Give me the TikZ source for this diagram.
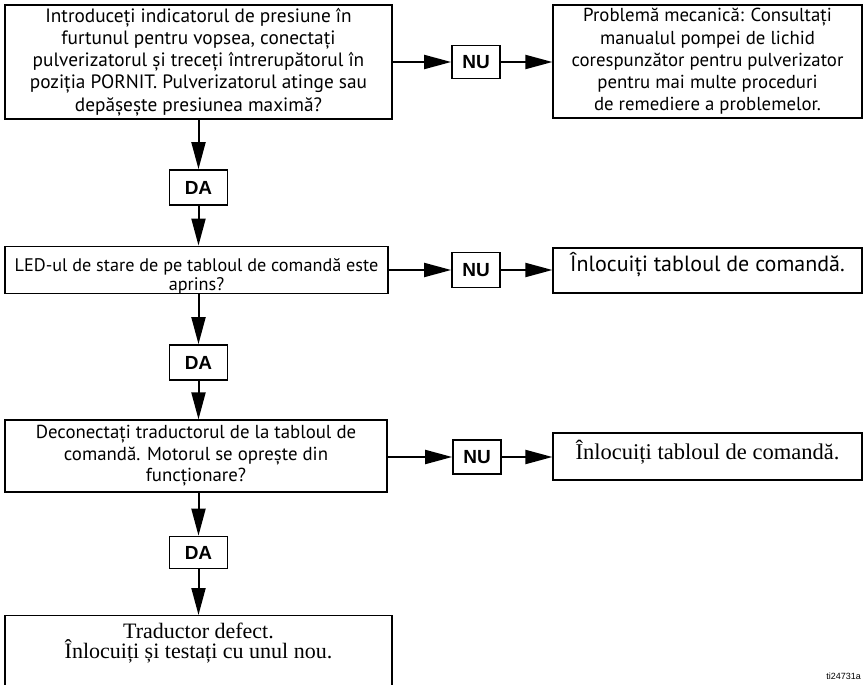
\documentclass[tikz,border=0pt]{standalone}
\usepackage{fontspec}
\setmainfont{Liberation Serif}
\setsansfont{PT Sans}
\newfontfamily\labelfont{Liberation Sans}
\usetikzlibrary{arrows.meta,positioning,calc}

\begin{document}
\begin{tikzpicture}[x=1pt,y=-1pt,
  qbox/.style={draw, line width=1.2pt, inner sep=0pt, align=center, font=\sffamily\fontsize{18.8}{21.5}\selectfont},
  rbox/.style={draw, line width=1.2pt, inner sep=0pt, align=center, minimum width=309pt},
  answer/.style={draw, line width=1.7pt, inner sep=0pt, minimum width=58pt, font=\labelfont\bfseries\fontsize{19}{21}\selectfont},
  flow/.style={line width=2pt, -{Triangle[length=27pt,width=14pt]}}]

\useasboundingbox (0,0) rectangle (863,685);

\node[qbox, minimum width=387pt, minimum height=114pt, font=\sffamily\fontsize{19.3}{22.3}\selectfont] (q1) at (198.5,62) {Introduceți indicatorul de presiune în\\furtunul pentru vopsea, conectați\\pulverizatorul și treceți întrerupătorul în\\poziția PORNIT. Pulverizatorul atinge sau\\depășește presiunea maximă?};

\node[answer, minimum width=48pt, minimum height=33pt] (nu1) at (476,62) {NU};

\node[rbox, minimum height=113pt, font=\sffamily\fontsize{18.8}{22.3}\selectfont] (r1) at (707.5,61.5) {Problemă mecanică: Consultați\\manualul pompei de lichid\\corespunzător pentru pulverizator\\pentru mai multe proceduri\\de remediere a problemelor.};

\node[answer, minimum height=35pt] (da1) at (198.5,187.5) {DA};

\node[qbox, minimum width=383pt, minimum height=45pt, text height=44pt, font=\sffamily\fontsize{18.2}{19}\selectfont] (q2) at (196.5,270) {LED-ul de stare de pe tabloul de comandă este\\aprins?};

\node[answer, minimum width=48pt, minimum height=35pt] (nu2) at (476,270) {NU};

\node[rbox, minimum height=45pt, text depth=18pt, font=\sffamily\fontsize{22}{24}\selectfont] (r2) at (707.5,270.5) {Înlocuiți tabloul de comandă.};

\node[answer, minimum height=35pt] (da2) at (198.5,362.5) {DA};

\node[qbox, minimum width=382pt, minimum height=72pt] (q3) at (196,456) {Deconectați traductorul de la tabloul de\\comandă. Motorul se oprește din\\funcționare?};

\node[answer, minimum width=48pt, minimum height=34pt] (nu3) at (477,457) {NU};

\node[rbox, minimum height=47pt, text depth=14pt, font=\rmfamily\fontsize{22.5}{24}\selectfont] (r3) at (707.5,456.5) {Înlocuiți tabloul de comandă.};

\node[answer, minimum height=32pt] (da3) at (198.5,552.5) {DA};

\node[rbox, anchor=north, minimum width=387pt, inner ysep=7pt, text depth=80pt, font=\rmfamily\fontsize{22}{20}\selectfont] (r4) at (198.5,615) {Traductor defect.\\Înlocuiți și testați cu unul nou.};

\node[anchor=east, inner sep=0pt, font=\labelfont\fontsize{9}{10}\selectfont] (tag) at (861,676) {ti24731a};

\draw[flow] (q1.east) -- (nu1.west);
\draw[flow] (nu1.east) -- (r1.west |- nu1.east);
\draw[flow] (q1.south -| da1) -- (da1.north);
\draw[flow] (da1.south) -- (da1.south |- q2.north);

\draw[flow] (q2.east |- nu2.west) -- (nu2.west);
\draw[flow] (nu2.east) -- (r2.west |- nu2.east);
\draw[flow] (q2.south -| da2) -- (da2.north);
\draw[flow] (da2.south) -- (da2.south |- q3.north);

\draw[flow] (q3.east |- nu3.west) -- (nu3.west);
\draw[flow] (nu3.east) -- (r3.west |- nu3.east);
\draw[flow] (q3.south -| da3) -- (da3.north);
\draw[flow] (da3.south) -- (r4.north -| da3.south);

\end{tikzpicture}
\end{document}
